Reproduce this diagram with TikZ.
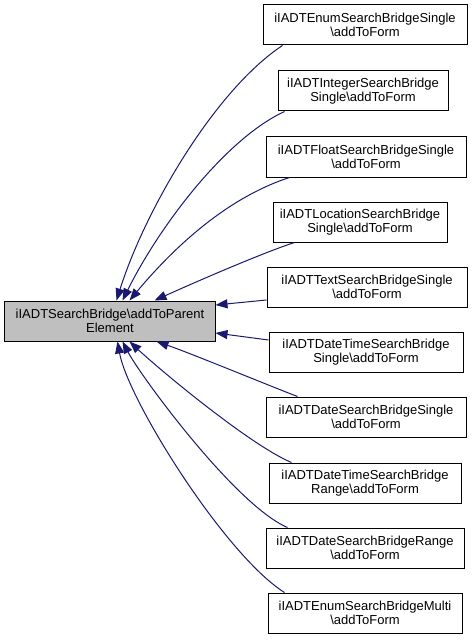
\documentclass[tikz,border=0pt]{standalone}
\usepackage{fontspec}
\setmainfont{Liberation Sans}
\usetikzlibrary{arrows.meta,calc}
\definecolor{edgeblue}{HTML}{191970}
\definecolor{basegray}{HTML}{BFBFBF}
\begin{document}
\begin{tikzpicture}[x=1bp,y=-1bp,
  box/.style={draw=black, line width=1bp, fill=white, align=center, inner sep=1bp,
    minimum height=40bp, font=\fontsize{13bp}{14.5bp}\selectfont},
  edge/.style={draw=edgeblue, line width=1bp, -{Triangle[length=12bp,width=9bp]}}]
\useasboundingbox (0,0) rectangle (472,640);

\node[box, fill=basegray, minimum width=210bp] (base) at (110,321)
  {iIADTSearchBridge\textbackslash addToParent\\Element};

\node[box, minimum width=204bp] (r1) at (365,25) {iIADTEnumSearchBridgeSingle\\\textbackslash addToForm};
\node[box, minimum width=170bp] (r2) at (363,91) {iIADTIntegerSearchBridge\\Single\textbackslash addToForm};
\node[box, minimum width=200bp] (r3) at (366,157) {iIADTFloatSearchBridgeSingle\\\textbackslash addToForm};
\node[box, minimum width=174bp] (r4) at (360,222) {iIADTLocationSearchBridge\\Single\textbackslash addToForm};
\node[box, minimum width=200bp] (r5) at (367,287) {iIADTTextSearchBridgeSingle\\\textbackslash addToForm};
\node[box, minimum width=194bp] (r6) at (366,352) {iIADTDateTimeSearchBridge\\Single\textbackslash addToForm};
\node[box, minimum width=200bp] (r7) at (366,417) {iIADTDateSearchBridgeSingle\\\textbackslash addToForm};
\node[box, minimum width=192bp] (r8) at (365,483) {iIADTDateTimeSearchBridge\\Range\textbackslash addToForm};
\node[box, minimum width=198bp] (r9) at (365,548) {iIADTDateSearchBridgeRange\\\textbackslash addToForm};
\node[box, minimum width=194bp] (r10) at (365,613) {iIADTEnumSearchBridgeMulti\\\textbackslash addToForm};

\draw[edge] ($(r1.south west)+(20,0)$) .. controls (215,90) and (145,210) .. ($(base.north west)+(112,0)$);
\draw[edge] ($(r2.south west)+(7,0)$) .. controls (225,139) and (159,227) .. ($(base.north west)+(118,0)$);
\draw[edge] ($(r3.south west)+(24,0)$) .. controls (220,200) and (165,258) .. ($(base.north west)+(125,0)$);
\draw[edge] ($(r4.south west)+(22,0)$) .. controls (265,252) and (200,280) .. ($(base.north west)+(150,0)$);
\draw[edge] ($(r5.west)+(0,13)$) -- ($(base.east)+(0,-16)$);
\draw[edge] ($(r6.west)+(0,-12)$) -- ($(base.east)+(0,12)$);
\draw[edge] ($(r7.north west)+(32,0)$) .. controls (270,386) and (190,353) .. ($(base.south west)+(152,0)$);
\draw[edge] ($(r8.north west)+(23,0)$) .. controls (250,445) and (160,370) .. ($(base.south west)+(125,0)$);
\draw[edge] ($(r9.north west)+(22,0)$) .. controls (235,505) and (140,375) .. ($(base.south west)+(118,0)$);
\draw[edge] ($(r10.north west)+(17,0)$) .. controls (225,555) and (128,400) .. ($(base.south west)+(113,0)$);
\end{tikzpicture}
\end{document}
